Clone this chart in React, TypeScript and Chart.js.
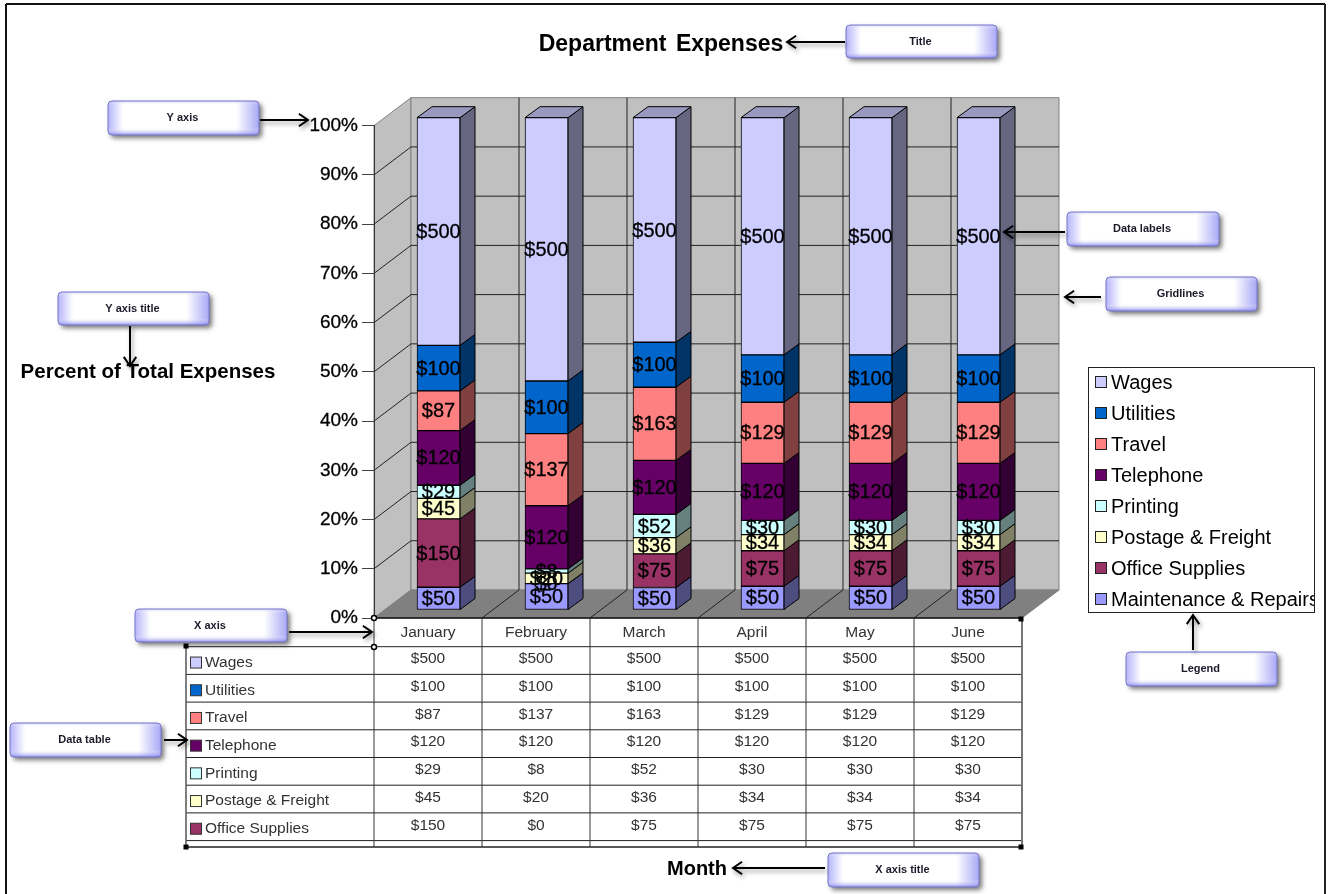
import React, { useEffect, useRef } from "react";
import { Chart, registerables } from "chart.js";

Chart.register(...registerables);

const months = ["January", "February", "March", "April", "May", "June"];
const maintenance = [50, 50, 50, 50, 50, 50];
const officeSupplies = [150, 0, 75, 75, 75, 75];
const postage = [45, 20, 36, 34, 34, 34];
const printing = [29, 8, 52, 30, 30, 30];
const telephone = [120, 120, 120, 120, 120, 120];
const travel = [87, 137, 163, 129, 129, 129];
const utilities = [100, 100, 100, 100, 100, 100];
const wages = [500, 500, 500, 500, 500, 500];

const seriesNames = ["Maintenance & Repairs", "Office Supplies", "Postage & Freight", "Printing", "Telephone", "Travel", "Utilities", "Wages"];
const seriesValues = [maintenance, officeSupplies, postage, printing, telephone, travel, utilities, wages];
const seriesColors = ["#9999FF", "#993366", "#FFFFCC", "#CCFFFF", "#660066", "#FF8080", "#0066CC", "#CCCCFF"];

const monthTotals = months.map((_, i) => seriesValues.reduce((s, v) => s + v[i], 0));

const SANS = '"Liberation Sans", Arial, sans-serif';
const W = 1331, H = 894;
const WALL_DX = 37, WALL_DY = -28;
const BAR_DX = 10.5, BAR_DY = -8;
const SIDE_DX = 15, SIDE_DY = -11;

const callouts = [
  { text: "Title", x: 846, y: 25, w: 151, h: 33, from: [845, 42], to: [787, 42] },
  { text: "Y axis", x: 108, y: 101, w: 151, h: 34, from: [260, 120], to: [308, 120] },
  { text: "Y axis title", x: 58, y: 292, w: 151, h: 33, from: [130, 326], to: [130, 366] },
  { text: "X axis", x: 135, y: 609, w: 152, h: 33, from: [289, 632], to: [372, 632] },
  { text: "Data table", x: 10, y: 723, w: 151, h: 34, from: [164, 740], to: [187, 740] },
  { text: "Data labels", x: 1067, y: 212, w: 152, h: 34, from: [1065, 232], to: [1004, 232] },
  { text: "Gridlines", x: 1106, y: 277, w: 151, h: 34, from: [1101, 297], to: [1065, 297] },
  { text: "Legend", x: 1126, y: 652, w: 151, h: 34, from: [1193, 650], to: [1193, 615] },
  { text: "X axis title", x: 828, y: 853, w: 151, h: 34, from: [825, 868], to: [733, 868] },
];

function shade(hex: string, f: number) {
  const n = parseInt(hex.slice(1), 16);
  const c = [(n >> 16) & 255, (n >> 8) & 255, n & 255].map((v) => Math.round(v * f));
  return `rgb(${c[0]},${c[1]},${c[2]})`;
}

function poly(ctx: CanvasRenderingContext2D, pts: number[][], fill?: string, stroke?: string, lw = 1) {
  ctx.beginPath();
  pts.forEach((p, i) => (i ? ctx.lineTo(p[0], p[1]) : ctx.moveTo(p[0], p[1])));
  ctx.closePath();
  if (fill) { ctx.fillStyle = fill; ctx.fill(); }
  if (stroke) { ctx.strokeStyle = stroke; ctx.lineWidth = lw; ctx.stroke(); }
}

function seg(ctx: CanvasRenderingContext2D, x1: number, y1: number, x2: number, y2: number, color: string, lw = 1) {
  ctx.strokeStyle = color;
  ctx.lineWidth = lw;
  ctx.beginPath();
  ctx.moveTo(x1, y1);
  ctx.lineTo(x2, y2);
  ctx.stroke();
}

function text(ctx: CanvasRenderingContext2D, s: string, x: number, y: number, font: string, color = "#000", align: CanvasTextAlign = "left", heavy = 0) {
  ctx.font = font;
  ctx.fillStyle = color;
  ctx.textAlign = align;
  ctx.textBaseline = "middle";
  ctx.fillText(s, x, y + 1);
  if (heavy) {
    ctx.strokeStyle = color;
    ctx.lineWidth = heavy;
    ctx.strokeText(s, x, y + 1);
  }
}

function drawCallout(ctx: CanvasRenderingContext2D, c: (typeof callouts)[number]) {
  ctx.save();
  ctx.shadowColor = "rgba(0,0,0,0.55)";
  ctx.shadowBlur = 5;
  ctx.shadowOffsetX = 3;
  ctx.shadowOffsetY = 3;
  ctx.beginPath();
  ctx.roundRect(c.x, c.y, c.w, c.h, 4);
  ctx.fillStyle = "#fff";
  ctx.fill();
  ctx.restore();
  ctx.save();
  ctx.beginPath();
  ctx.roundRect(c.x, c.y, c.w, c.h, 4);
  ctx.clip();
  const g = ctx.createLinearGradient(c.x, 0, c.x + c.w, 0);
  g.addColorStop(0, "#b4b4fa");
  g.addColorStop(0.1, "#ffffff");
  g.addColorStop(0.85, "#ffffff");
  g.addColorStop(1, "#a8a8f6");
  ctx.fillStyle = g;
  ctx.fillRect(c.x, c.y, c.w, c.h);
  const v = ctx.createLinearGradient(0, c.y, 0, c.y + c.h);
  v.addColorStop(0, "rgba(190,190,250,0.6)");
  v.addColorStop(0.12, "rgba(255,255,255,0)");
  v.addColorStop(0.78, "rgba(255,255,255,0)");
  v.addColorStop(1, "rgba(120,120,235,0.8)");
  ctx.fillStyle = v;
  ctx.fillRect(c.x, c.y, c.w, c.h);
  ctx.restore();
  ctx.beginPath();
  ctx.roundRect(c.x, c.y, c.w, c.h, 4);
  ctx.strokeStyle = "#7777cc";
  ctx.lineWidth = 1;
  ctx.stroke();
  text(ctx, c.text, c.x + c.w / 2 - 1, c.y + c.h / 2 - 1, `bold 11px ${SANS}`, "#1a1a2a", "center");
}

function drawArrow(ctx: CanvasRenderingContext2D, from: number[], to: number[]) {
  ctx.save();
  ctx.shadowColor = "rgba(0,0,0,0.4)";
  ctx.shadowBlur = 4;
  ctx.shadowOffsetX = 2;
  ctx.shadowOffsetY = 3;
  const a = Math.atan2(to[1] - from[1], to[0] - from[0]);
  ctx.strokeStyle = "#000";
  ctx.lineWidth = 2;
  ctx.beginPath();
  ctx.moveTo(from[0], from[1]);
  ctx.lineTo(to[0], to[1]);
  ctx.moveTo(to[0] - 11 * Math.cos(a - 0.6), to[1] - 11 * Math.sin(a - 0.6));
  ctx.lineTo(to[0], to[1]);
  ctx.lineTo(to[0] - 11 * Math.cos(a + 0.6), to[1] - 11 * Math.sin(a + 0.6));
  ctx.stroke();
  ctx.restore();
}

const backdrop = {
  id: "backdrop",
  beforeDraw(chart: any) {
    const { ctx, chartArea: a, scales } = chart;
    ctx.save();
    ctx.fillStyle = "#fff";
    ctx.fillRect(0, 0, W, H);
    // page frame
    seg(ctx, 6, 894, 6, 4, "#111", 2);
    seg(ctx, 6, 4, 1325, 4, "#111", 2);
    seg(ctx, 1325, 4, 1325, 894, "#222", 2);
    const bl = a.left + WALL_DX, br = a.right + WALL_DX;
    const bt = a.top + WALL_DY, bb = a.bottom + WALL_DY;
    poly(ctx, [[a.left, a.top], [bl, bt], [bl, bb], [a.left, a.bottom]], "#C0C0C0", "#808080");
    poly(ctx, [[bl, bt], [br, bt], [br, bb], [bl, bb]], "#C0C0C0", "#808080");
    poly(ctx, [[a.left, a.bottom], [bl, bb], [br, bb], [a.right, a.bottom]], "#808080", "#808080");
    // gridlines on the walls
    scales.y.ticks.forEach((t: any) => {
      if (t.value === 100 || t.value === 0) return;
      const y = scales.y.getPixelForValue(t.value);
      seg(ctx, a.left, y, bl, y + WALL_DY, "#222");
      seg(ctx, bl, y + WALL_DY, br, y + WALL_DY, "#222");
    });
    // category dividers on floor and back wall
    const step = (a.right - a.left) / months.length;
    for (let i = 1; i < months.length; i++) {
      const x = a.left + i * step;
      seg(ctx, x, a.bottom, x + WALL_DX, bb, "#222");
      seg(ctx, x + WALL_DX, bb, x + WALL_DX, bt, "#222");
    }
    ctx.restore();
  },
};

const bars3d = {
  id: "bars3d",
  beforeDatasetsDraw(chart: any) {
    const { ctx } = chart;
    ctx.save();
    ctx.translate(BAR_DX, BAR_DY);
    chart.data.datasets.forEach((ds: any, di: number) => {
      chart.getDatasetMeta(di).data.forEach((el: any) => {
        const r = el.x + el.width / 2;
        const l = el.x - el.width / 2;
        const t = el.y, b = el.base;
        poly(ctx, [[r, t], [r + SIDE_DX, t + SIDE_DY], [r + SIDE_DX, b + SIDE_DY], [r, b]], shade(ds.backgroundColor, 0.5), "#000");
        if (di === chart.data.datasets.length - 1) {
          poly(ctx, [[l, t], [l + SIDE_DX, t + SIDE_DY], [r + SIDE_DX, t + SIDE_DY], [r, t]], shade(ds.backgroundColor, 0.75), "#000");
        }
      });
    });
    ctx.restore();
    ctx.save();
    ctx.translate(BAR_DX, BAR_DY);
  },
  afterDatasetsDraw(chart: any) {
    const { ctx } = chart;
    ctx.restore();
    ctx.save();
    chart.data.datasets.forEach((_: any, di: number) => {
      chart.getDatasetMeta(di).data.forEach((el: any, i: number) => {
        const y = (el.y + el.base) / 2 + BAR_DY;
        text(ctx, "$" + seriesValues[di][i], el.x + BAR_DX, y, `20px ${SANS}`, "#000", "center", 0.3);
      });
    });
    ctx.restore();
  },
};

const annotations = {
  id: "annotations",
  afterDraw(chart: any) {
    const { ctx, chartArea: a } = chart;
    ctx.save();
    // texts
    ctx.save();
    (ctx as any).wordSpacing = "3px";
    text(ctx, "Department Expenses", 661, 44, `bold 23px ${SANS}`, "#000", "center");
    ctx.restore();
    text(ctx, "Percent of Total Expenses", 148, 371, `bold 20.5px ${SANS}`, "#000", "center");
    text(ctx, "Month", 697, 868, `bold 20px ${SANS}`, "#000", "center");

    // data table
    const tableLeft = 186, rowH = 27.7, headH = 28.7;
    const top = a.bottom + headH;
    const rows = [...seriesNames.keys()].slice(1).reverse();
    const bottom = 847;
    const step = (a.right - a.left) / months.length;
    for (let r = 0; r <= rows.length; r++) {
      const y = top + r * rowH;
      seg(ctx, tableLeft, y, a.right, y, "#222");
    }
    seg(ctx, tableLeft, bottom, a.right, bottom, "#222", 1.5);
    seg(ctx, tableLeft, top, tableLeft, bottom, "#555", 1.5);
    seg(ctx, a.left, a.bottom, a.right, a.bottom, "#111", 1.5);
    for (let i = 0; i <= months.length; i++) {
      const x = a.left + i * step;
      seg(ctx, x, a.bottom, x, bottom, i === months.length ? "#777" : "#333", i === months.length ? 2 : 1);
    }
    rows.forEach((s, r) => {
      const mid = top + (r + 0.5) * rowH;
      ctx.fillStyle = seriesColors[s];
      ctx.fillRect(tableLeft + 4.5, mid - 3.5, 11, 11);
      ctx.strokeStyle = "#333";
      ctx.lineWidth = 1;
      ctx.strokeRect(tableLeft + 4.5, mid - 3.5, 11, 11);
      text(ctx, seriesNames[s], tableLeft + 19, mid + 1, `15.5px ${SANS}`, "#333");
      months.forEach((_, i) => {
        text(ctx, "$" + seriesValues[s][i], a.left + (i + 0.5) * step, mid - 2.5, `15.5px ${SANS}`, "#333", "center");
      });
    });

    // selection handles
    const squares = [[186, 646], [186, 847], [1021, 847], [1021, 619]];
    squares.forEach(([x, y]) => { ctx.fillStyle = "#000"; ctx.fillRect(x - 2.5, y - 2.5, 5, 5); });
    [[374, 618], [374, 647]].forEach(([x, y]) => {
      ctx.beginPath();
      ctx.arc(x, y, 2.5, 0, Math.PI * 2);
      ctx.fillStyle = "#fff";
      ctx.fill();
      ctx.strokeStyle = "#000";
      ctx.lineWidth = 1.5;
      ctx.stroke();
    });

    // legend
    const lx = 1088, ly = 367, lw = 227, lh = 246;
    ctx.fillStyle = "#fff";
    ctx.fillRect(lx, ly, lw, lh);
    ctx.save();
    ctx.beginPath();
    ctx.rect(lx, ly, lw, lh);
    ctx.clip();
    [...seriesNames.keys()].reverse().forEach((s, r) => {
      const mid = 382 + r * 31;
      ctx.fillStyle = seriesColors[s];
      ctx.fillRect(lx + 7.5, mid - 5.5, 11, 11);
      ctx.strokeStyle = "#222";
      ctx.lineWidth = 1;
      ctx.strokeRect(lx + 7.5, mid - 5.5, 11, 11);
      text(ctx, seriesNames[s], lx + 23, mid, `20px ${SANS}`, "#000");
    });
    ctx.restore();
    ctx.strokeStyle = "#222";
    ctx.lineWidth = 1;
    ctx.strokeRect(lx + 0.5, ly + 0.5, lw - 1, lh - 1);

    // callouts
    callouts.forEach((c) => drawCallout(ctx, c));
    callouts.forEach((c) => drawArrow(ctx, c.from, c.to));
    ctx.restore();
  },
};

export default function App() {
  const ref = useRef<HTMLCanvasElement>(null);
  useEffect(() => {
    const chart = new Chart(ref.current as HTMLCanvasElement, {
      type: "bar",
      data: {
        labels: months,
        datasets: seriesNames.map((name, s) => ({
          label: name,
          data: seriesValues[s].map((v, i) => (v / monthTotals[i]) * 100),
          backgroundColor: seriesColors[s],
          borderColor: "#000",
          borderWidth: 1,
          borderSkipped: false,
          barThickness: 43,
          clip: false,
        })),
      } as any,
      options: {
        responsive: false,
        animation: false,
        layout: { padding: { left: 304, right: 309, top: 125.7, bottom: 236 } },
        plugins: { legend: { display: false }, title: { display: false }, tooltip: { enabled: false } },
        scales: {
          x: {
            stacked: true,
            grid: { display: false, drawTicks: false },
            border: { display: false },
            afterFit: (s: any) => { s.height = 40; },
            ticks: { font: { family: SANS, size: 15.5 }, color: "#333", padding: 5, maxRotation: 0 },
          },
          y: {
            stacked: true,
            min: 0,
            max: 100,
            afterFit: (s: any) => { s.width = 70; },
            border: { display: true, color: "#333" },
            grid: { drawOnChartArea: false, drawTicks: true, tickLength: 12, tickColor: "#444" },
            ticks: { stepSize: 10, padding: 4, color: "#000", textStrokeColor: "#000", textStrokeWidth: 0.3, font: { family: SANS, size: 19 }, callback: (v: any) => v + "%" },
          },
        },
      } as any,
      plugins: [backdrop, bars3d, annotations],
    });
    return () => chart.destroy();
  }, []);
  return (
    <div style={{ position: "fixed", left: 0, top: 0, width: W, height: H, overflow: "hidden", background: "#fff" }}>
      <canvas ref={ref} width={W} height={H} style={{ display: "block" }} />
    </div>
  );
}
